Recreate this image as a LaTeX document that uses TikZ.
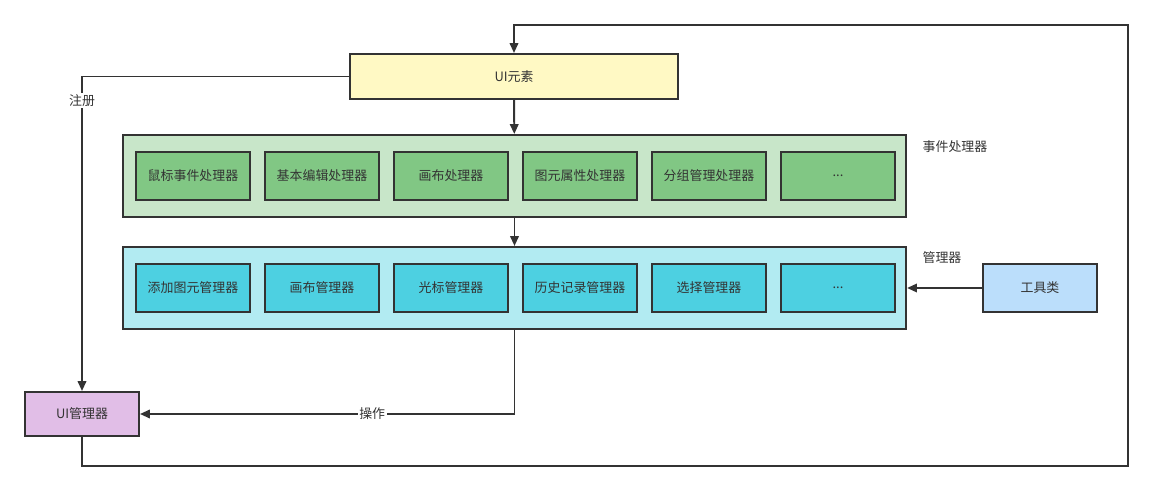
\documentclass[tikz,border=0pt]{standalone}
\usepackage{fontspec}
\newfontfamily\cjk{Noto Sans CJK SC}
\usetikzlibrary{arrows.meta}
\definecolor{edge}{HTML}{333333}
\definecolor{uiyellow}{HTML}{FFF9C4}
\definecolor{grnbg}{HTML}{C8E6C9}
\definecolor{grnbox}{HTML}{81C784}
\definecolor{cyanbg}{HTML}{B2EBF2}
\definecolor{cyanbox}{HTML}{4DD0E1}
\definecolor{toolblue}{HTML}{BBDEFB}
\definecolor{mgrpurple}{HTML}{E1BEE7}
\newcommand{\moreItems}{...}
\begin{document}
\begin{tikzpicture}[
          x=0.025cm, y=-0.025cm,
          font=\cjk\fontsize{9.2}{11}\selectfont,
          text=edge,
          box/.style={draw=edge, line width=1.4pt, minimum width=2.85cm, minimum height=1.2cm, inner sep=0pt},
          group box/.style={draw=edge, line width=1.4pt, minimum width=19.575cm, minimum height=2.05cm, inner sep=0pt},
          arr/.style={draw=edge, line width=1.4pt, -{Triangle[length=7pt,width=6pt]}},
          line label/.style={fill=white, inner sep=1pt},
      ]

      \useasboundingbox (0,0) rectangle (1152,491);

      % UI元素
      \node[box, fill=uiyellow, minimum width=8.2cm, minimum height=1.125cm] (uiElem) at (514,76.5) {UI元素};

      % 事件处理器
      \node[group box, fill=grnbg] (handlers) at (514.5,176) {};
      \node (handlersLabel) at (955,147) {事件处理器};
      \foreach \name [count=\i from 0] in {鼠标事件处理器, 基本编辑处理器, 画布处理器, 图元属性处理器, 分组管理处理器, \moreItems} {
          \node[box, fill=grnbox] (h-\i) at (193+129*\i,176) {\name};
      }

      % 管理器
      \node[group box, fill=cyanbg] (managers) at (514.5,288) {};
      \node (managersLabel) at (942,258) {管理器};
      \foreach \name [count=\i from 0] in {添加图元管理器, 画布管理器, 光标管理器, 历史记录管理器, 选择管理器, \moreItems} {
          \node[box, fill=cyanbox] (m-\i) at (193+129*\i,288) {\name};
      }

      % 工具类 / UI管理器
      \node[box, fill=toolblue] (tools) at (1040,288) {工具类};
      \node[box, fill=mgrpurple, minimum height=1.1cm] (uiMgr) at (82,414) {UI管理器};

      % 连线
      \coordinate (loopBL) at (82,466);
      \coordinate (loopTR) at (1128,25);
      \draw[arr] (uiElem) -- (handlers);
      \draw[arr] (handlers) -- (managers);
      \draw[arr] (tools) -- (managers.east |- tools.west);
      \draw[arr] (uiElem.west) -| (uiMgr.north) node[line label, pos=0.538] {注册};
      \draw[arr] (managers.south) |- (uiMgr.east) node[line label, pos=0.69] {操作};
      \draw[arr] (uiMgr.south) -- (loopBL) -| (loopTR) -| (uiElem.north);

      \end{tikzpicture}
\end{document}
